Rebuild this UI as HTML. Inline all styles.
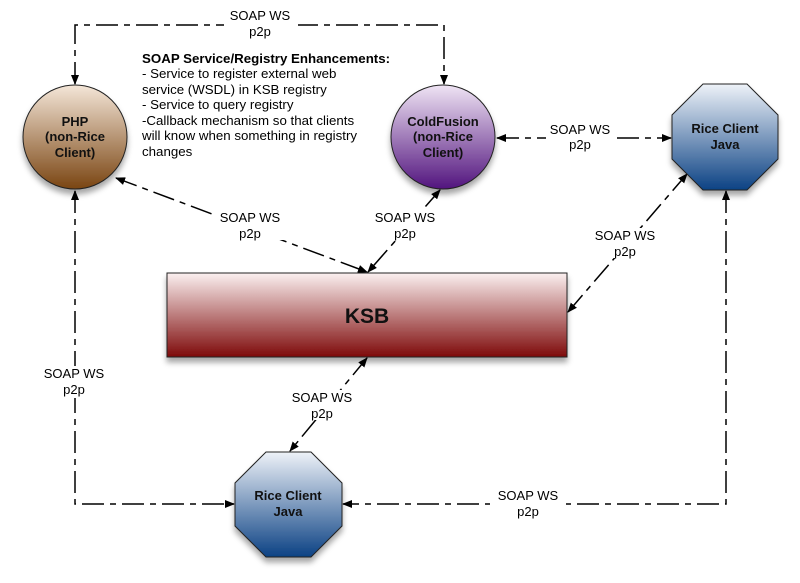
<!DOCTYPE html>
<html><head><meta charset="utf-8"><style>
html,body{margin:0;padding:0;background:#fff;}
svg{display:block;font-family:"Liberation Sans",Arial,sans-serif;}
</style></head><body>
<svg width="800" height="583" viewBox="0 0 800 583" xmlns="http://www.w3.org/2000/svg">
<defs>
<linearGradient id="php" x1="0" y1="0" x2="0" y2="1"><stop offset="0" stop-color="#f4e6d8"/><stop offset="1" stop-color="#7a4512"/></linearGradient>
<linearGradient id="cf" x1="0" y1="0" x2="0" y2="1"><stop offset="0" stop-color="#efe4f4"/><stop offset="1" stop-color="#52147e"/></linearGradient>
<linearGradient id="rc" x1="0" y1="0" x2="0" y2="1"><stop offset="0" stop-color="#eef2f8"/><stop offset="1" stop-color="#0c4284"/></linearGradient>
<linearGradient id="ksb" x1="0" y1="0" x2="0" y2="1"><stop offset="0" stop-color="#fbf0f0"/><stop offset="1" stop-color="#7e0a0a"/></linearGradient>
<filter id="sh" x="-20%" y="-20%" width="140%" height="150%"><feDropShadow dx="0" dy="5" stdDeviation="3" flood-color="#000" flood-opacity="0.35"/></filter>
<marker id="ar" markerWidth="10" markerHeight="8" refX="9" refY="4" orient="auto" markerUnits="userSpaceOnUse"><path d="M0,0 L10,4 L0,8 z" fill="#000"/></marker>
<marker id="as" markerWidth="10" markerHeight="8" refX="1" refY="4" orient="auto" markerUnits="userSpaceOnUse"><path d="M10,0 L0,4 L10,8 z" fill="#000"/></marker>
</defs>
<g stroke="#000" stroke-width="1.5" fill="none" stroke-dasharray="22,6,6,6">
<polyline points="75,84 75,25 444,25 444,84" marker-start="url(#as)" marker-end="url(#ar)"/>
<line x1="497" y1="138" x2="671" y2="138" marker-start="url(#as)" marker-end="url(#ar)"/>
<line x1="116" y1="178" x2="367" y2="272" marker-start="url(#as)" marker-end="url(#ar)"/>
<line x1="440" y1="190" x2="368" y2="272" marker-start="url(#as)" marker-end="url(#ar)"/>
<line x1="687" y1="174" x2="568" y2="312" marker-start="url(#as)" marker-end="url(#ar)"/>
<line x1="367" y1="358" x2="290" y2="451" marker-start="url(#as)" marker-end="url(#ar)"/>
<polyline points="75,191 75,504 234,504" marker-start="url(#as)" marker-end="url(#ar)"/>
<polyline points="726,191 726,504 343,504" marker-start="url(#as)" marker-end="url(#ar)"/>
</g>
<g font-size="13" text-anchor="middle" fill="#000">
<rect x="224" y="8" width="74" height="32" fill="#fff"/>
<text x="260" y="20">SOAP WS</text><text x="260" y="36">p2p</text>
<rect x="546" y="122" width="68" height="30" fill="#fff"/>
<text x="580" y="134">SOAP WS</text><text x="580" y="149">p2p</text>
<rect x="212" y="210" width="74" height="30" fill="#fff"/>
<text x="250" y="222">SOAP WS</text><text x="250" y="238">p2p</text>
<rect x="370" y="210" width="70" height="30" fill="#fff"/>
<text x="405" y="222">SOAP WS</text><text x="405" y="238">p2p</text>
<rect x="590" y="228" width="70" height="30" fill="#fff"/>
<text x="625" y="240">SOAP WS</text><text x="625" y="256">p2p</text>
<rect x="286" y="390" width="72" height="30" fill="#fff"/>
<text x="322" y="402">SOAP WS</text><text x="322" y="418">p2p</text>
<rect x="38" y="366" width="70" height="32" fill="#fff"/>
<text x="74" y="378">SOAP WS</text><text x="74" y="394">p2p</text>
<rect x="490" y="488" width="76" height="32" fill="#fff"/>
<text x="528" y="500">SOAP WS</text><text x="528" y="516">p2p</text>
</g>
<g font-size="13.3" fill="#000">
<text x="142" y="63" font-weight="bold">SOAP Service/Registry Enhancements:</text>
<text x="142" y="78">- Service to register external web</text>
<text x="142" y="94">service (WSDL) in KSB registry</text>
<text x="142" y="109">- Service to query registry</text>
<text x="142" y="125">-Callback mechanism so that clients</text>
<text x="142" y="140">will know when something in registry</text>
<text x="142" y="156">changes</text>
</g>
<g stroke="#222" stroke-width="1" filter="url(#sh)">
<circle cx="75" cy="137" r="52" fill="url(#php)"/>
<circle cx="443" cy="137" r="52" fill="url(#cf)"/>
<polygon points="703,84 747,84 778,115 778,159 747,190 703,190 672,159 672,115" fill="url(#rc)"/>
<polygon points="266,452 311,452 342,483 342,526 311,557 266,557 235,526 235,483" fill="url(#rc)"/>
<rect x="167" y="273" width="400" height="84" fill="url(#ksb)"/>
</g>
<g font-weight="bold" text-anchor="middle" fill="#111" font-size="13">
<text x="75" y="126">PHP</text><text x="75" y="141">(non-Rice</text><text x="75" y="157">Client)</text>
<text x="443" y="126">ColdFusion</text><text x="443" y="141">(non-Rice</text><text x="443" y="157">Client)</text>
<text x="725" y="133">Rice Client</text><text x="725" y="149">Java</text>
<text x="288" y="500">Rice Client</text><text x="288" y="516">Java</text>
<text x="367" y="323" font-size="21">KSB</text>
</g>
</svg>
</body></html>
